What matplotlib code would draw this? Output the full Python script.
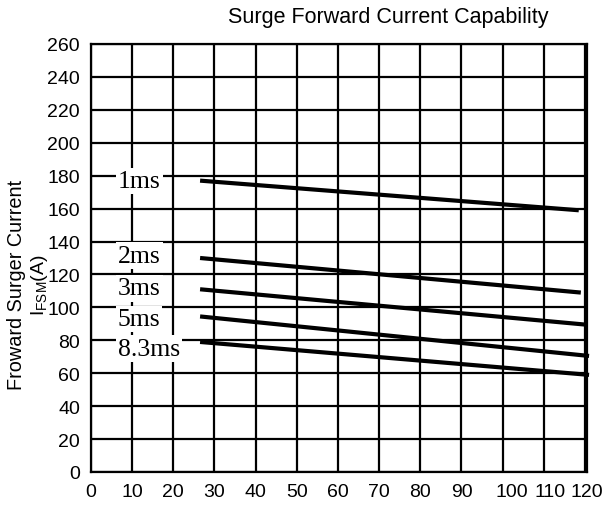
import numpy as np
import matplotlib.pyplot as plt

# surge curves: pulse width label, (x start, x end), (current start, current end)
x_start = 26.5
x_end = [118.5, 119.0, 120.3, 121.0, 121.0]
pulse_labels = ['1ms', '2ms', '3ms', '5ms', '8.3ms']
i_start = [177, 130, 111, 94.5, 79]
i_end = [159, 109, 89.5, 70.5, 59]

# where the pulse labels sit
label_x = [6.5, 6.5, 6.5, 6.5, 6.5]
label_y = [177, 131.5, 111.5, 93, 75]

x_ticks = list(range(0, 121, 10))
x_tick_labels = [str(v) for v in x_ticks]
y_ticks = list(range(0, 261, 20))

plt.rcParams['font.family'] = ['Liberation Sans', 'DejaVu Sans']
plt.rcParams['mathtext.fontset'] = 'custom'
plt.rcParams['mathtext.rm'] = 'Liberation Sans'

fig = plt.figure(figsize=(6.08, 5.10), dpi=100)
ax = fig.add_axes([91 / 608, 1 - 473 / 510, 496 / 608, 428 / 510])

ax.set_xlim(0, 120)
ax.set_ylim(0, 260)

# grid lines
ax.vlines(x_ticks, 0, 260, color='black', linewidth=1.6, zorder=1)
ax.hlines(y_ticks, 0, 120, color='black', linewidth=1.6, zorder=1)

# tick labels (the last x labels sit a bit right, as in the original)
label_pos = x_ticks[:-3] + [102.3, 111.5, 120.5]
ax.set_xticks(label_pos)
ax.set_xticklabels(x_tick_labels)
ax.set_yticks(y_ticks)
ax.tick_params(length=0)
ax.tick_params(axis='x', labelsize=14, pad=8)
ax.tick_params(axis='y', labelsize=14, pad=8)

for s in ax.spines.values():
    s.set_linewidth(1.6)

for lab, xe, y0, y1, lx, ly in zip(pulse_labels, x_end, i_start, i_end, label_x, label_y):
    ax.plot([x_start, xe], [y0, y1], color='black', linewidth=3, solid_capstyle='butt',
            zorder=4, clip_on=False)
    ax.text(lx, ly, lab, fontsize=18.5, family='Liberation Serif', ha='left', va='center',
            bbox=dict(facecolor='white', edgecolor='none', pad=1.5), zorder=3)

fig.text(388 / 608, 1 - 17 / 510, 'Surge Forward Current Capability',
         fontsize=15.5, ha='center', va='center')
fig.text(17 / 608, 1 - 285 / 510, 'Froward Surger Current', fontsize=14.3,
         rotation=90, ha='center', va='center')
fig.text(39 / 608, 1 - 285 / 510, r'I$_{\mathrm{FSM}}$(A)', fontsize=14,
         rotation=90, ha='center', va='center')

fig.savefig('out.png', dpi=100)
